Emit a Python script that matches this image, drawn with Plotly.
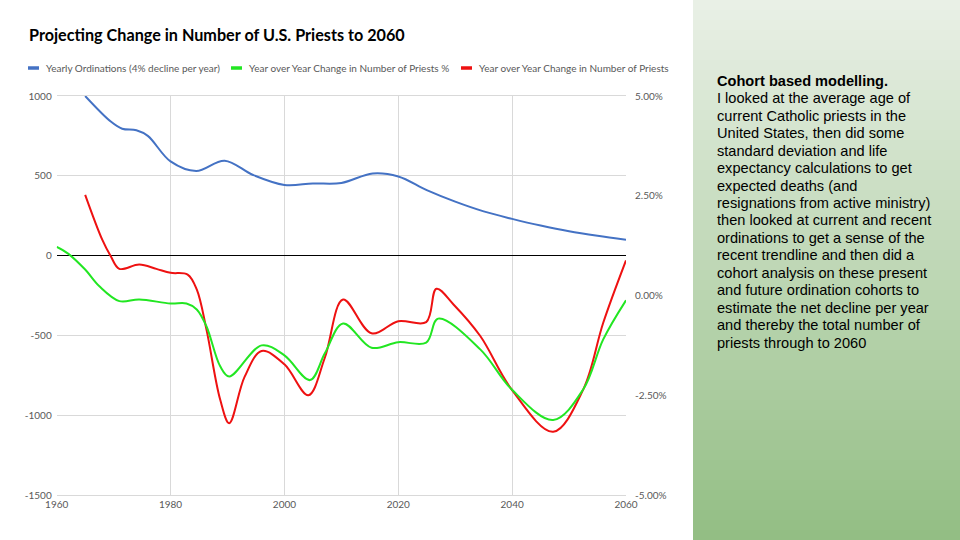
"""Projecting change in number of U.S. priests to 2060 - Plotly recreation."""

import plotly.graph_objects as go

# Yearly ordinations (left axis)
ordination_years = [1965, 1969.5, 1971.5, 1974, 1976, 1980, 1984.5, 1989.5, 1994.5, 2000,
                    2005, 2010, 2015.5, 2020, 2025, 2030, 2035, 2040, 2045, 2050, 2055, 2060]
ordinations = [1000, 840, 795, 785, 750, 590, 530, 595, 505, 443,
               452, 455, 515, 496, 410, 338, 277, 230, 188, 152, 124, 100]

# Year over year change in number of priests, % (right axis)
pct_years = [1960, 1962, 1965, 1967.5, 1971, 1974.5, 1980, 1982.8, 1984.6, 1986.3, 1988.7,
             1990.3, 1996, 2000, 2004.5, 2007.1, 2010.3, 2015.3, 2020,
             2024.9, 2027, 2034.4, 2039.9, 2047.2, 2052.5, 2056, 2060]
pct_change = [1.22, 1.05, 0.65, 0.23, -0.14, -0.10, -0.20, -0.20, -0.35, -0.77, -1.77,
              -2.03, -1.25, -1.50, -2.12, -1.45, -0.70, -1.31, -1.17,
              -1.18, -0.58, -1.35, -2.35, -3.12, -2.35, -1.10, -0.12]

# Year over year change in number of priests (left axis)
num_years = [1965, 1968, 1969.5, 1971, 1974.5, 1977.5, 1980, 1983, 1984.6, 1986.3, 1988.7,
             1990.3, 1993, 1996, 2000, 2004.2, 2007.1, 2010.3,
             2015.3, 2020, 2024.9, 2026.7, 2029.7, 2034.4, 2039.9, 2047.2, 2052.5,
             2056, 2060]
num_change = [381, 100, -4, -83, -56, -83, -108, -119, -212, -462, -900,
              -1050, -760, -598, -681, -875, -640, -275,
              -487, -411, -417, -208, -306, -504, -838, -1104, -838,
              -421, -30]

left_ticks = [-1500, -1000, -500, 0, 500, 1000]
right_ticks = [-0.05, -0.025, 0, 0.025, 0.05]
x_ticks = [1960, 1980, 2000, 2020, 2040, 2060]

panel_heading = "Cohort based modelling."
panel_lines = [
    "I looked at the average age of",
    "current Catholic priests in the",
    "United States, then did some",
    "standard deviation and life",
    "expectancy calculations to get",
    "expected deaths (and",
    "resignations from active ministry)",
    "then looked at current and recent",
    "ordinations to get a sense of the",
    "recent trendline and then did a",
    "cohort analysis on these present",
    "and future ordination cohorts to",
    "estimate the net decline per year",
    "and thereby the total number of",
    "priests through to 2060",
]

W, H = 960, 540
BLUE, GREEN, RED = "#4472c4", "#22e622", "#ee1111"
GRID = "#d9d9d9"
LABEL = "#595959"
FONT = "Lato"


def px(x):
    return x / W


def py(y):
    return 1 - y / H


fig = go.Figure()
fig.add_trace(go.Scatter(x=ordination_years, y=ordinations, mode="lines",
                         name="Yearly Ordinations (4% decline per year)",
                         line=dict(color=BLUE, width=2, shape="spline", smoothing=1)))
fig.add_trace(go.Scatter(x=pct_years, y=[v / 100 for v in pct_change], mode="lines", yaxis="y2",
                         name="Year over Year Change in Number of Priests %",
                         line=dict(color=GREEN, width=2, shape="spline", smoothing=1)))
fig.add_trace(go.Scatter(x=num_years, y=num_change, mode="lines",
                         name="Year over Year Change in Number of Priests",
                         line=dict(color=RED, width=2, shape="spline", smoothing=1)))

# right side text panel with a vertical gradient
shapes = []
bands = 54
top_c, bot_c = (233, 240, 230), (147, 190, 132)
for i in range(bands):
    t = i / (bands - 1)
    c = tuple(round(a + (b - a) * t) for a, b in zip(top_c, bot_c))
    shapes.append(dict(type="rect", xref="paper", yref="paper",
                       x0=px(693), x1=1, y0=py(i * H / bands), y1=py((i + 1) * H / bands + 0.5),
                       fillcolor="rgb(%d,%d,%d)" % c, line=dict(width=0), layer="below"))

# legend drawn by hand to keep the short Excel-style keys
legend_items = [(28, BLUE, fig.data[0].name), (231, GREEN, fig.data[1].name), (461, RED, fig.data[2].name)]
annotations = []
for x0, col, label in legend_items:
    shapes.append(dict(type="line", xref="paper", yref="paper", x0=px(x0), x1=px(x0 + 11),
                       y0=py(68), y1=py(68), line=dict(color=col, width=3.5)))
    annotations.append(dict(xref="paper", yref="paper", x=px(x0 + 16), y=py(68), text=label,
                            showarrow=False, xanchor="left", yanchor="middle",
                            font=dict(family=FONT, size=10, color=LABEL)))

annotations.append(dict(xref="paper", yref="paper", x=px(27), y=py(35),
                        text="<b>Projecting Change in Number of U.S. Priests to 2060</b>",
                        showarrow=False, xanchor="left", yanchor="middle",
                        font=dict(family=FONT, size=16.2, color="#000000")))

# panel text, one annotation per line to match the slide's line spacing
line_gap = 17.47
for i, line in enumerate([panel_heading] + panel_lines):
    annotations.append(dict(xref="paper", yref="paper", x=px(715), y=py(80.7 + i * line_gap),
                            text="<b>%s</b>" % line if i == 0 else line,
                            showarrow=False, xanchor="left", yanchor="middle", align="left",
                            font=dict(family="Liberation Sans", size=14.6, color="#000000")))

fig.update_layout(
    width=W, height=H,
    margin=dict(l=0, r=0, t=0, b=0),
    paper_bgcolor="white", plot_bgcolor="white",
    showlegend=False,
    shapes=shapes,
    annotations=annotations,
    font=dict(family=FONT, size=10, color=LABEL),
    xaxis=dict(domain=[px(56.7), px(626)], range=[1960, 2060], tickvals=x_ticks,
               showgrid=True, gridcolor=GRID, gridwidth=1, zeroline=False,
               showline=True, linecolor=GRID, mirror=True, ticks="",
               tickfont=dict(family=FONT, size=10, color=LABEL), automargin=False),
    yaxis=dict(domain=[1 - 495 / H, 1 - 96 / H], range=[-1500, 1000], tickvals=left_ticks,
               ticktext=[str(v) for v in left_ticks],
               showgrid=True, gridcolor=GRID, gridwidth=1,
               zeroline=True, zerolinecolor="#000000", zerolinewidth=1,
               showline=False, ticks="", ticklabelstandoff=4,
               tickfont=dict(family=FONT, size=10, color=LABEL), automargin=False),
    yaxis2=dict(overlaying="y", side="right", range=[-0.05, 0.05], tickvals=right_ticks,
                ticktext=["%.2f%%" % (v * 100) for v in right_ticks],
                showgrid=False, zeroline=False, showline=False,
                ticks="", ticklabelstandoff=8,
                tickfont=dict(family=FONT, size=10, color=LABEL), automargin=False),
)

fig.write_html("out.html", config={"displayModeBar": False},
               post_script="document.body.style.margin='0';")
